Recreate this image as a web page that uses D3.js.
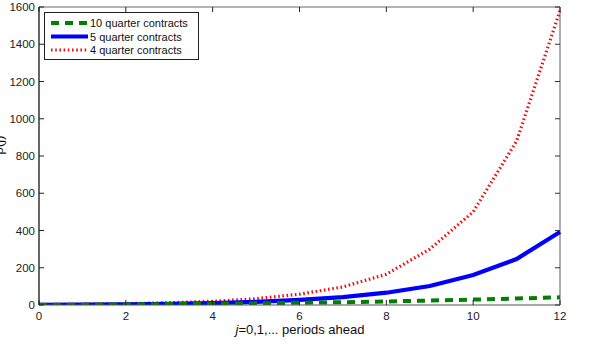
<!DOCTYPE html>
<html><head><meta charset="utf-8">
<script src="https://cdn.jsdelivr.net/npm/d3@7"></script>
<style>body{margin:0;background:#fff}svg{display:block}text{font-family:Arial,"Liberation Sans",sans-serif}</style>
</head><body><svg id="c" width="600" height="356"></svg>
<script>
const periods = [0,1,2,3,4,5,6,7,8,9,10,11,12];
const tenQuarter = [1,2,3,5,7,9,12,15,19,24,29,35,41];
const fiveQuarter = [1,2,4,6,10,17,27,42,66,102,161,247,392];
const fourQuarter = [2,4,7,12,20,34,58,97,165,300,500,880,1580];
const xTicks = [0,2,4,6,8,10,12];
const yTicks = [0,200,400,600,800,1000,1200,1400,1600];
const seriesNames = ["10 quarter contracts","5 quarter contracts","4 quarter contracts"];

const svg = d3.select("#c");
const L=39, R=560, T=7, B=305;
const x = d3.scaleLinear().domain([0,12]).range([L,R]);
const y = d3.scaleLinear().domain([0,1600]).range([B,T]);

const g = svg.append("g");
g.append("line").attr("x1",L).attr("x2",R).attr("y1",T).attr("y2",T).attr("stroke","#666").attr("stroke-width",1.2);
g.append("line").attr("x1",R).attr("x2",R).attr("y1",T).attr("y2",B).attr("stroke","#777").attr("stroke-width",1.2);

const series = [
  {vals:fourQuarter, color:"#ee1111", width:3.2, dash:"1.6,2.6"},
  {vals:fiveQuarter, color:"#0000ff", width:4.2, dash:null},
  {vals:tenQuarter, color:"#007f00", width:4, dash:"8,6"}
];
const line = d3.line().x((d,i)=>x(periods[i])).y(d=>y(d));
svg.append("clipPath").attr("id","cp").append("rect").attr("x",L).attr("y",T-3).attr("width",R-L+1).attr("height",B-T+3);
series.forEach(s=>{
  svg.append("path").datum(s.vals).attr("d",line).attr("fill","none")
    .attr("stroke",s.color).attr("stroke-width",s.width)
    .attr("stroke-dasharray",s.dash).attr("clip-path","url(#cp)");
});

svg.append("line").attr("x1",L).attr("x2",R).attr("y1",B).attr("y2",B).attr("stroke","#555").attr("stroke-width",1.2);
svg.append("line").attr("x1",L).attr("x2",L).attr("y1",T).attr("y2",B).attr("stroke","#000").attr("stroke-width",1.2);

xTicks.forEach(t=>{
  svg.append("line").attr("x1",x(t)).attr("x2",x(t)).attr("y1",B).attr("y2",B-5).attr("stroke","#222");
  svg.append("line").attr("x1",x(t)).attr("x2",x(t)).attr("y1",T).attr("y2",T+5).attr("stroke","#222");
  svg.append("text").attr("x",x(t)).attr("y",B+15).attr("text-anchor","middle").attr("font-size",11.5).attr("fill","#222").text(t);
});
yTicks.forEach(t=>{
  svg.append("line").attr("x1",L).attr("x2",L+5).attr("y1",y(t)).attr("y2",y(t)).attr("stroke","#222");
  svg.append("line").attr("x1",R).attr("x2",R-5).attr("y1",y(t)).attr("y2",y(t)).attr("stroke","#333");
  svg.append("text").attr("x",L-4).attr("y",y(t)+4).attr("text-anchor","end").attr("font-size",11.5).attr("fill","#222").text(t);
});

const xl = svg.append("text").attr("x",300).attr("y",334).attr("text-anchor","middle").attr("font-size",13).attr("fill","#111");
xl.append("tspan").attr("font-style","italic").text("j");
xl.append("tspan").text("=0,1,... periods ahead");

svg.append("text").attr("transform","translate(3,145) rotate(-90)").attr("text-anchor","middle").attr("font-size",13).attr("fill","#111").text("ρ(j)");

const lg = svg.append("g");
lg.append("rect").attr("x",44.5).attr("y",12.5).attr("width",154).attr("height",47).attr("fill","#fff").attr("stroke","#222").attr("stroke-width",1);
const legendOrder = [series[2],series[1],series[0]];
legendOrder.forEach((s,i)=>{
  const yy = 23 + i*13.5;
  lg.append("line").attr("x1",51).attr("x2",88).attr("y1",yy).attr("y2",yy)
    .attr("stroke",s.color).attr("stroke-width",s.width).attr("stroke-dasharray",s.dash);
  lg.append("text").attr("x",90).attr("y",yy+4).attr("font-size",11).attr("fill","#111").text(seriesNames[i]);
});
</script></body></html>
